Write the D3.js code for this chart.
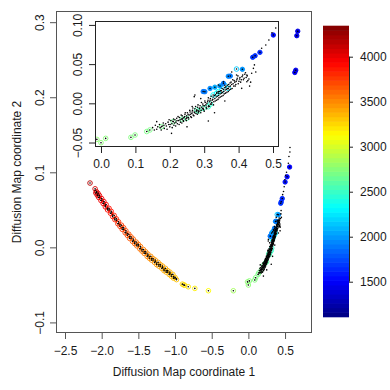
<!DOCTYPE html>
<html><head><meta charset="utf-8">
<script src="https://cdn.jsdelivr.net/npm/d3@7"></script>
<style>
body{margin:0;background:#fff}
svg{display:block;font-family:"Liberation Sans",Arial,Helvetica,sans-serif}
</style>
</head><body>
<svg id="chart" width="390" height="390"></svg>
<script>
// ---------- tick labels ----------
const xTicks = [-2.5, -2, -1.5, -1, -0.5, 0, 0.5];
const yTicks = [-0.1, 0, 0.1, 0.2, 0.3];
const insetXTicks = [0, 0.1, 0.2, 0.3, 0.4, 0.5];
const insetYTicks = [-0.05, 0, 0.05, 0.10];
const colorTicks = [1500, 2000, 2500, 3000, 3500, 4000];
const colorRange = [1108, 4341];
const xLabel = "Diffusion Map coordinate 1";
const yLabel = "Diffusion Map coordinate 2";

// ---------- coloured cells (x, y, value) ----------
const circX = [-2.159,-2.09,-2.08,-2.07,-2.06,-2.05,-2.04,-2.03,-2.01,-2.00,-1.98,-1.97,-1.95,-1.94,-1.92,-1.90,-1.88,-1.87,-1.85,-1.83,-1.82,-1.80,-1.78,-1.77,-1.75,-1.73,-1.72,-1.70,-1.68,-1.67,-1.65,-1.63,-1.62,-1.60,-1.58,-1.57,-1.55,-1.53,-1.52,-1.50,-1.48,-1.47,-1.45,-1.43,-1.42,-1.40,-1.38,-1.37,-1.35,-1.33,-1.32,-1.30,-1.28,-1.27,-1.25,-1.23,-1.22,-1.20,-1.18,-1.17,-1.15,-1.13,-1.12,-1.10,-1.08,-1.07,-1.05,-1.03,-1.02,-1.00,-0.98,
 -0.90,-0.88,-0.87,-0.82,-0.73,-0.545,
 -0.205,-0.012,0.000,0.0136,0.087,0.099,0.133,0.142,0.176,0.210,0.236,0.249,
 0.278,0.283,0.297,0.312,0.318,
 0.326,0.336,0.350,0.370,0.360,0.341,
 0.297,0.302,0.317,0.331,0.346,0.356,0.370,0.376,0.394,0.411,
 0.441,0.448,0.462,0.501,0.528,0.562,0.633,0.646,0.660,0.673];
const circY = [0.0857,0.078,0.0725,0.074,0.0695,0.072,0.0665,0.069,0.0625,0.065,0.0585,0.061,0.054,0.057,0.050,0.052,0.0455,0.048,0.041,0.0425,0.037,0.038,0.0315,0.034,0.028,0.0295,0.024,0.026,0.0195,0.022,0.016,0.0175,0.012,0.014,0.008,0.011,0.005,0.007,0.002,0.004,-0.002,0.001,-0.005,-0.003,-0.008,-0.006,-0.012,-0.009,-0.0145,-0.012,-0.017,-0.015,-0.020,-0.017,-0.023,-0.020,-0.025,-0.023,-0.028,-0.025,-0.031,-0.028,-0.033,-0.031,-0.036,-0.033,-0.0385,-0.036,-0.041,-0.040,-0.043,
 -0.049,-0.050,-0.0505,-0.0525,-0.0547,-0.0578,
 -0.0578,-0.0460,-0.0502,-0.0447,-0.0434,-0.0404,-0.0360,-0.0340,-0.0298,-0.0234,-0.0202,-0.0191,
 -0.0085,-0.0100,-0.0064,-0.0043,-0.0010,
 0.0106,0.0128,0.0160,0.0190,0.0230,0.0150,
 0.0150,0.0148,0.0190,0.0206,0.0221,0.0255,0.0345,0.0348,0.0437,0.0434,
 0.0587,0.0607,0.0650,0.0871,0.094,0.107,0.233,0.236,0.282,0.288];
const circV = [4170,4060,4050,4040,4030,4020,4010,4000,3990,3980,3965,3955,3940,3930,3915,3900,3885,3875,3860,3845,3835,3820,3805,3795,3780,3765,3755,3740,3725,3715,3700,3685,3675,3660,3645,3635,3620,3608,3600,3590,3578,3570,3560,3548,3540,3530,3518,3510,3500,3490,3482,3472,3462,3455,3445,3435,3430,3420,3410,3405,3395,3388,3382,3375,3365,3360,3350,3342,3338,3330,3320,
 3255,3245,3240,3210,3180,3135,
 2840,2770,2760,2750,2730,2725,2710,2705,2690,2660,2620,2600,
 2540,2560,2520,2490,2460,
 2320,2300,2280,2250,2200,2330,
 1880,1900,1950,2050,2000,1900,1950,1900,2150,1980,
 1680,1660,1640,1560,1530,1500,1460,1450,1430,1420];

// ---------- all cells as small black dots (x, y) ----------
const dotX = [-2.09,-2.07,-2.05,-2.03,-2.00,-1.97,-1.95,-1.92,-1.90,-1.87,-1.85,-1.82,-1.80,-1.77,-1.75,-1.72,-1.70,-1.67,-1.65,-1.62,-1.60,-1.57,-1.55,-1.52,-1.50,-1.47,-1.45,-1.42,-1.40,-1.37,-1.35,-1.32,-1.30,-1.27,-1.25,-1.22,-1.20,-1.17,-1.15,-1.12,-1.10,-1.07,-1.05,-1.02,-1.00,-0.98,
 0.150,0.158,0.162,0.170,0.172,0.178,0.181,0.184,0.188,0.190,0.195,0.197,0.200,0.203,0.206,0.209,0.212,0.215,0.218,0.220,0.222,0.226,0.228,0.231,0.234,0.236,0.239,0.241,0.244,0.246,0.249,0.251,0.254,0.256,0.259,0.261,0.264,0.266,0.268,0.271,0.273,0.276,0.279,0.281,0.283,0.286,0.288,0.291,0.293,0.296,0.298,0.301,0.303,0.306,0.308,0.311,0.313,0.316,0.318,0.321,0.323,0.326,0.328,0.331,0.333,0.336,0.338,0.341,0.343,0.346,0.348,0.351,0.353,0.356,0.358,0.361,0.363,0.366,0.368,0.371,0.373,0.376,0.378,0.381,0.384,0.387,0.390,0.393,0.396,0.399,0.403,0.406,0.410,0.414,0.418,0.422,0.427,
 0.155,0.165,0.175,0.183,0.192,0.198,0.201,0.207,0.211,0.214,0.217,0.221,0.224,0.227,0.230,0.233,0.235,0.238,0.240,0.243,0.245,0.248,0.250,0.253,0.255,0.258,0.260,0.263,0.265,0.267,0.270,0.272,0.275,0.277,0.280,0.282,0.285,0.287,0.290,0.292,0.295,0.297,0.300,0.302,0.305,0.307,0.310,0.312,0.315,0.317,0.320,0.322,0.325,0.327,0.330,0.332,0.335,0.337,0.340,0.342,0.345,0.347,0.350,0.352,0.355,0.357,0.360,0.362,0.365,0.367,0.370,0.372,0.375,0.377,0.380,0.383,0.386,0.389,0.392,0.395,0.398,0.401,0.404,0.408,0.412,0.416,0.420,0.425,0.430,0.435,
 0.273,0.271,0.162,0.205,0.312,0.424,0.438,0.443,0.446,0.424,0.467,0.479,0.488,0.409,0.394,0.356,0.341,0.250,0.330,0.360,0.290,0.380,0.265,0.432,0.450,0.497,0.508,0.520,0.545,0.553,0.567,0.566];
const dotY = [0.076,0.073,0.070,0.067,0.063,0.059,0.056,0.052,0.050,0.046,0.043,0.039,0.036,0.032,0.030,0.026,0.024,0.020,0.018,0.014,0.012,0.009,0.007,0.004,0.002,-0.001,-0.003,-0.006,-0.008,-0.011,-0.0125,-0.015,-0.017,-0.019,-0.021,-0.023,-0.025,-0.027,-0.029,-0.031,-0.033,-0.035,-0.0365,-0.039,-0.041,-0.042,
 -0.031,-0.028,-0.033,-0.027,-0.031,-0.029,-0.025,-0.032,-0.026,-0.029,-0.024,-0.027,-0.030,-0.022,-0.026,-0.023,-0.028,-0.021,-0.024,-0.019,-0.026,-0.022,-0.018,-0.024,-0.020,-0.016,-0.022,-0.018,-0.014,-0.020,-0.016,-0.012,-0.018,-0.015,-0.011,-0.017,-0.013,-0.009,-0.015,-0.011,-0.007,-0.013,-0.009,-0.005,-0.012,-0.007,-0.003,-0.009,-0.005,-0.001,-0.008,-0.003,0.001,-0.005,0.000,0.004,-0.003,0.002,0.006,-0.001,0.004,0.008,0.002,0.006,0.011,0.004,0.009,0.013,0.007,0.012,0.016,0.009,0.014,0.018,0.012,0.017,0.021,0.014,0.019,0.024,0.017,0.022,0.027,0.019,0.025,0.029,0.022,0.028,0.032,0.025,0.031,0.027,0.034,0.030,0.037,0.033,0.029,
 -0.034,-0.030,-0.034,-0.028,-0.033,-0.021,-0.027,-0.031,-0.020,-0.025,-0.029,-0.022,-0.017,-0.027,-0.021,-0.015,-0.025,-0.019,-0.023,-0.017,-0.012,-0.022,-0.018,-0.014,-0.020,-0.009,-0.014,-0.018,-0.011,-0.006,-0.016,-0.012,-0.004,-0.010,-0.014,-0.002,-0.010,-0.006,-0.012,0.001,-0.007,-0.003,-0.010,0.003,-0.002,-0.007,0.002,0.007,-0.004,0.004,0.009,0.001,0.005,-0.002,0.010,0.003,0.008,0.014,0.005,0.010,0.015,0.008,0.013,0.019,0.010,0.015,0.020,0.013,0.018,0.023,0.015,0.021,0.026,0.018,0.024,0.030,0.022,0.027,0.024,0.030,0.035,0.028,0.033,0.030,0.036,0.032,0.039,0.035,0.031,0.027,
 0.0106,0.0085,-0.0234,-0.0383,-0.0226,0.0276,0.0383,0.0446,0.049,0.0361,0.0702,0.0744,0.0807,0.0191,0.0361,0.0276,0.0233,-0.030,-0.012,0.003,0.006,0.040,-0.004,0.022,0.040,0.090,0.096,0.100,0.112,0.121,0.133,0.127];

// ---------- drawing ----------
const svg = d3.select("#chart");
const ink = "#1a1a1a";
const cells = circX.map((x, i) => ({x, y: circY[i], v: circV[i]}));
const dots = dotX.map((x, i) => ({x, y: dotY[i]}));

const jet = d3.scaleLinear()
  .domain([1108, 1512, 2320, 3129, 3937, 4341])
  .range(["#00007F", "#0000FF", "#00FFFF", "#FFFF00", "#FF0000", "#7F0000"])
  .clamp(true);

const fmt = d => (d < 0 ? "\u2212" : "") + Math.abs(d).toFixed(1);
const fmt2 = d => (d < 0 ? "\u2212" : "") + Math.abs(d).toFixed(2);

function drawPoints(g, sx, sy) {
  g.selectAll("circle.cell").data(cells).join("circle")
    .attr("class", "cell")
    .attr("cx", d => sx(d.x)).attr("cy", d => sy(d.y))
    .attr("r", d => d.v < 2100 ? 2.2 : 2.3)
    .attr("fill", d => d.v < 2100 ? jet(d.v) : "none")
    .attr("stroke", d => jet(d.v))
    .attr("stroke-width", 0.9);
  g.selectAll("circle.dot").data(dots.concat(cells)).join("circle")
    .attr("class", "dot")
    .attr("cx", d => sx(d.x)).attr("cy", d => sy(d.y))
    .attr("r", 0.8)
    .attr("fill", "#000");
}

// main plot
const L = 56, R = 312, T = 11, B = 333;
const mx = d3.scaleLinear().domain([-2.6227, 0.8673]).range([L, R]);
const my = d3.scaleLinear().domain([-0.1141, 0.3149]).range([B, T]);

const mainG = svg.append("g");
drawPoints(mainG, mx, my);

svg.append("rect").attr("x", L + 0.5).attr("y", T + 0.5)
  .attr("width", R - L - 1).attr("height", B - T - 1)
  .attr("fill", "none").attr("stroke", "#555").attr("stroke-width", 1);

const xa = svg.append("g").attr("transform", `translate(0,${B})`)
  .call(d3.axisBottom(mx).tickValues(xTicks).tickSize(6).tickSizeOuter(0).tickFormat(fmt));
xa.select(".domain").remove();
xa.selectAll("line").attr("stroke", "#555");
xa.selectAll("text").attr("y", 22).attr("dy", 0).attr("fill", ink)
  .attr("font-size", 12).attr("font-family", "Liberation Sans, Arial, sans-serif");

const ya = svg.append("g").attr("transform", `translate(${L},0)`)
  .call(d3.axisLeft(my).tickValues(yTicks).tickSize(6).tickSizeOuter(0).tickFormat(fmt));
ya.select(".domain").remove();
ya.selectAll("line").attr("stroke", "#555");
ya.selectAll("text").attr("x", 0).attr("dy", 0)
  .attr("transform", "translate(-12.5,0) rotate(-90)")
  .attr("text-anchor", "middle").attr("fill", ink)
  .attr("font-size", 12).attr("font-family", "Liberation Sans, Arial, sans-serif");

svg.append("text").attr("x", (L + R) / 2).attr("y", 376)
  .attr("text-anchor", "middle").attr("font-size", 12).attr("fill", ink)
  .text(xLabel);
svg.append("text").attr("transform", `translate(21,${(T + B) / 2}) rotate(-90)`)
  .attr("text-anchor", "middle").attr("font-size", 12).attr("fill", ink)
  .text(yLabel);

// inset
const iL = 95, iR = 279, iT = 21, iB = 147;
const ix = d3.scaleLinear().domain([-0.01744, 0.51744]).range([iL, iR]);
const iy = d3.scaleLinear().domain([-0.0557, 0.1050]).range([iB, iT]);

svg.append("rect").attr("x", iL).attr("y", iT).attr("width", iR - iL).attr("height", iB - iT)
  .attr("fill", "#fff");
svg.append("clipPath").attr("id", "insetClip").append("rect")
  .attr("x", iL).attr("y", iT).attr("width", iR - iL).attr("height", iB - iT);
const insetG = svg.append("g").attr("clip-path", "url(#insetClip)");
drawPoints(insetG, ix, iy);
svg.append("rect").attr("x", iL + 0.5).attr("y", iT + 0.5)
  .attr("width", iR - iL - 1).attr("height", iB - iT - 1)
  .attr("fill", "none").attr("stroke", "#222").attr("stroke-width", 1);

const ixa = svg.append("g").attr("transform", `translate(0,${iB})`)
  .call(d3.axisBottom(ix).tickValues(insetXTicks).tickSize(6).tickSizeOuter(0).tickFormat(fmt));
ixa.select(".domain").remove();
ixa.selectAll("line").attr("stroke", "#222");
ixa.selectAll("text").attr("y", 21).attr("dy", 0).attr("fill", ink)
  .attr("font-size", 12).attr("font-family", "Liberation Sans, Arial, sans-serif");

const iya = svg.append("g").attr("transform", `translate(${iL},0)`)
  .call(d3.axisLeft(iy).tickValues(insetYTicks).tickSize(6).tickSizeOuter(0).tickFormat(fmt2));
iya.select(".domain").remove();
iya.selectAll("line").attr("stroke", "#222");
iya.selectAll("text").attr("x", 0).attr("dy", 0)
  .attr("transform", "translate(-13,0) rotate(-90)")
  .attr("text-anchor", "middle").attr("fill", ink)
  .attr("font-size", 12).attr("font-family", "Liberation Sans, Arial, sans-serif");

// colour bar
const cL = 323, cR = 349, cT = 26, cB = 317;
const cy = d3.scaleLinear().domain(colorRange).range([cB, cT]);
const nBands = 64;
const step = (colorRange[1] - colorRange[0]) / nBands;
const bands = d3.range(nBands).map(i => colorRange[0] + i * step);
svg.append("g").selectAll("rect").data(bands).join("rect")
  .attr("x", cL).attr("width", cR - cL)
  .attr("y", d => cy(d + step) - 0.3)
  .attr("height", d => cy(d) - cy(d + step) + 0.6)
  .attr("fill", d => jet(d + step / 2));

const ca = svg.append("g").attr("transform", `translate(${cR},0)`)
  .call(d3.axisRight(cy).tickValues(colorTicks).tickSize(4).tickSizeOuter(0).tickPadding(7).tickFormat(d3.format("d")));
ca.select(".domain").remove();
ca.append("line").attr("x1", 0.5).attr("x2", 0.5)
  .attr("y1", cy(colorTicks[0])).attr("y2", cy(colorTicks[colorTicks.length - 1]))
  .attr("stroke", "#222");
ca.selectAll("line").attr("stroke", "#222");
ca.selectAll("text").attr("fill", ink)
  .attr("font-size", 12).attr("font-family", "Liberation Sans, Arial, sans-serif");
</script>
</body></html>
